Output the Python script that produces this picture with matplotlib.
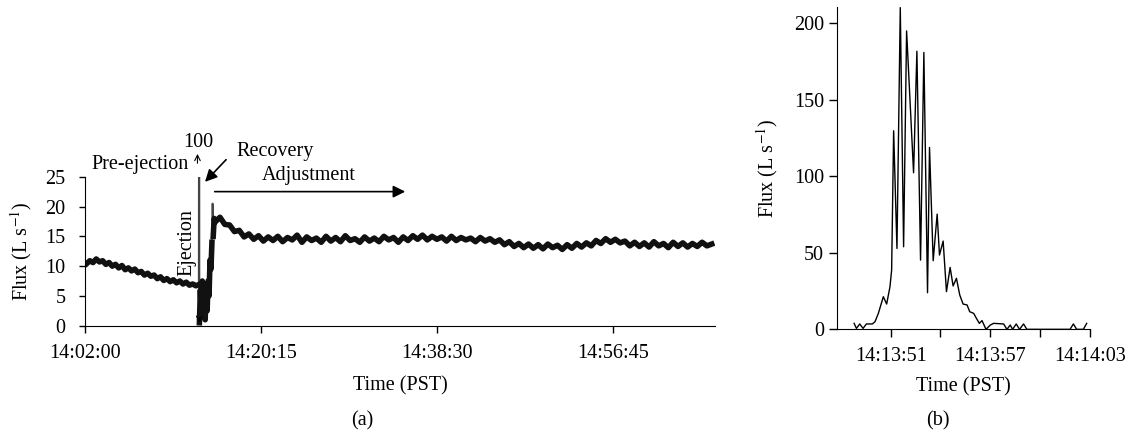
import numpy as np
import matplotlib
matplotlib.use('Agg')
from matplotlib import pyplot as plt

plt.rcParams['font.family'] = ['Liberation Serif', 'DejaVu Serif']
plt.rcParams['mathtext.fontset'] = 'stix'

# ---- panel (a): seconds after 14:02:00 ----
pre_t = np.arange(10, 691, 20)
pre_v = [10.4, 10.9, 10.6, 11.2, 10.7, 10.9, 10.3, 10.6, 10.0, 10.3,
         9.7, 10.1, 9.4, 9.7, 9.2, 9.5, 8.9, 9.1, 8.5, 8.8,
         8.3, 8.5, 7.9, 8.2, 7.6, 7.9, 7.4, 7.7, 7.2, 7.5,
         7.0, 7.3, 6.8, 7.0, 6.7]

ej_t = [700, 708, 711, 712, 718, 724, 730, 736, 742, 748, 754, 760,
        766, 772, 778, 784, 790, 794, 798, 804]
ej_v = [6.8, 6.9, 100, 0.5, 6.0, 2.0, 7.5, 1.5, 5.5, 1.0, 6.5, 2.5,
        7.5, 5.0, 11.0, 9.5, 14.0, 20.5, 15.0, 18.0]
spike_t = [711, 794]   # narrow spikes drawn as thin lines only

post_t = np.arange(810, 3901, 30)
post_v = [17.4, 18.2, 17.0, 16.9, 15.8, 16.0, 14.9, 15.4, 14.5, 15.1,
          14.2, 14.9, 14.3, 15.0, 14.1, 14.8, 14.4, 15.2, 14.0, 14.9,
          14.3, 14.7, 14.0, 15.0, 14.2, 14.8, 14.1, 15.1, 14.3, 14.6,
          14.0, 14.9, 14.2, 14.7, 14.1, 15.0, 14.4, 14.8, 14.0, 14.9,
          14.3, 15.1, 14.5, 15.2, 14.4, 15.0, 14.5, 14.9, 14.2, 15.0,
          14.3, 14.8, 14.4, 14.7, 14.1, 14.8, 14.2, 14.6, 14.0, 14.4,
          13.6, 14.1, 13.3, 13.8, 13.1, 13.7, 13.0, 13.6, 12.9, 13.7,
          13.1, 13.5, 12.8, 13.6, 13.0, 13.8, 13.2, 13.9, 13.4, 14.3,
          13.8, 14.6, 14.0, 14.5, 13.9, 14.2, 13.4, 14.0, 13.3, 13.9,
          13.2, 14.1, 13.4, 13.8, 13.1, 14.0, 13.3, 13.9, 13.2, 13.8,
          13.3, 14.0, 13.4, 13.7]

a_ticks = [0, 1095, 2190, 3285]
a_labels = ['14:02:00', '14:20:15', '14:38:30', '14:56:45']

# ---- panel (b): seconds after 14:13:00 ----
b_t = [48.8, 48.94, 49.14, 49.34, 49.54, 49.9, 50.06, 50.26, 50.56, 50.76,
       50.96, 51.06, 51.18, 51.38, 51.58, 51.78, 51.96, 52.38, 52.58, 52.8,
       53.0, 53.22, 53.34, 53.56, 53.8, 53.94, 54.16, 54.36, 54.58, 54.76,
       54.96, 55.16, 55.36, 55.6, 55.76, 56.0, 56.16, 56.34, 56.5, 56.74,
       57.0, 57.2, 57.8, 58.0, 58.2, 58.34, 58.56, 58.76, 59.0, 59.2,
       61.8, 62.0, 62.2, 62.6, 62.8]
b_v = [3.9, 0.6, 3.5, 0.6, 3.5, 3.5, 5.0, 10.4, 21.3, 16.5,
       27.8, 38.7, 129.6, 52.8, 210, 53.9, 194.8, 102.2, 181.5, 45.2,
       180.7, 23.9, 118.7, 44.8, 75.2, 48.5, 57.6, 24.6, 40.4, 28.3,
       33.3, 22.4, 16.5, 15.9, 11.5, 10.4, 7.2, 3.9, 5.7, 0.0,
       2.8, 3.9, 3.5, 0.0, 2.8, 0.0, 3.5, 0.0, 3.5, 0.0,
       0.0, 3.5, 0.0, 0.0, 3.9]

b_ticks = [51, 54, 57, 60, 63]
b_labels = ['14:13:51', '', '14:13:57', '', '14:14:03']

fs = 14.5
fig = plt.figure(figsize=(11.3, 4.34), dpi=100)

ax1 = fig.add_axes([0.0752, 0.2495, 0.5575, 0.3433])
t_all = np.concatenate([pre_t, ej_t, post_t])
v_all = np.concatenate([pre_v, ej_v, post_v]).astype(float)
v_thick = np.where(np.isin(t_all, spike_t), np.nan, v_all)
ax1.plot(t_all, v_all, color='#444444', lw=1.3)
ax1.plot(t_all, v_thick, color='#111111', lw=4.0, solid_joinstyle='round')
ax1.set_xlim(0, 3920)
ax1.set_ylim(0, 25)
ax1.set_xticks(a_ticks)
ax1.set_xticklabels(a_labels)
ax1.set_yticks([0, 5, 10, 15, 20, 25])
ax1.tick_params(axis='x', length=5, width=1, pad=8, labelsize=fs)
ax1.tick_params(axis='y', length=4, width=1, pad=10, labelsize=fs)
ax1.set_xlabel('Time (PST)', fontsize=fs, labelpad=10)
ax1.set_ylabel(r'Flux (L s$^{-1}$)', fontsize=fs, labelpad=8)
for s in ['top', 'right']:
    ax1.spines[s].set_visible(False)

ax1.text(703, 30.8, '100', fontsize=fs, ha='center', va='center', clip_on=False)
ax1.annotate('', xy=(700, 29.3), xytext=(700, 26.8), annotation_clip=False,
             arrowprops=dict(arrowstyle='->', lw=0.8, color='k'))
ax1.text(645, 27.0, 'Pre-ejection', fontsize=fs, ha='right', va='center')
ax1.text(1182, 29.2, 'Recovery', fontsize=fs, ha='center', va='center')
ax1.annotate('', xy=(735, 23.8), xytext=(890, 28.2), annotation_clip=False,
             arrowprops=dict(arrowstyle='-|>', lw=1.2, color='k', mutation_scale=18))
ax1.text(1393, 25.2, 'Adjustment', fontsize=fs, ha='center', va='center')
ax1.annotate('', xy=(2010, 22.5), xytext=(790, 22.5), annotation_clip=False,
             arrowprops=dict(arrowstyle='-|>', lw=1.2, color='k', mutation_scale=18))
ax1.text(634, 14.0, 'Ejection', fontsize=fs, rotation=90, ha='center', va='center')
ax1.annotate('', xy=(711, 0.0), xytext=(711, 1.8), annotation_clip=False,
             arrowprops=dict(arrowstyle='->', lw=0.8, color='k'))

ax2 = fig.add_axes([0.7404, 0.2412, 0.2242, 0.7434])
ax2.plot(b_t, b_v, color='black', lw=1.0)
ax2.set_xlim(47.75, 63.0)
ax2.set_ylim(0, 210.6)
ax2.set_xticks(b_ticks)
ax2.set_xticklabels(b_labels)
ax2.set_yticks([0, 50, 100, 150, 200])
ax2.tick_params(axis='x', length=6, width=1, pad=7, labelsize=fs)
ax2.tick_params(axis='y', length=6, width=1, pad=3, labelsize=fs)
ax2.set_xlabel('Time (PST)', fontsize=fs, labelpad=8)
ax2.set_ylabel(r'Flux (L s$^{-1}$)', fontsize=fs, labelpad=10)
for s in ['top', 'right']:
    ax2.spines[s].set_visible(False)

fig.text(362 / 1130, 1 - 421 / 434, '(a)', fontsize=fs, ha='center', va='center')
fig.text(938 / 1130, 1 - 421 / 434, '(b)', fontsize=fs, ha='center', va='center')

fig.savefig('out.png', dpi=100)
